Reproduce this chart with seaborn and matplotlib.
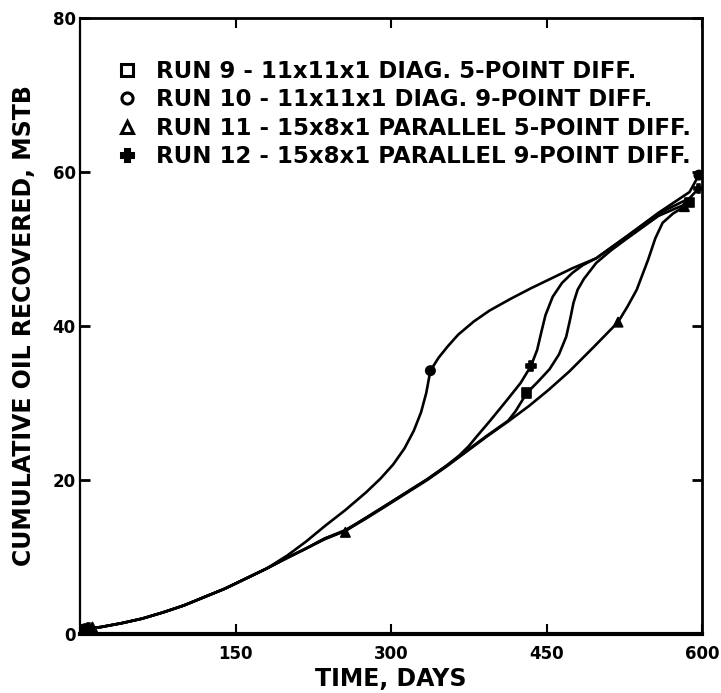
import matplotlib
matplotlib.use("Agg")
import matplotlib.pyplot as plt
import seaborn as sns
import pandas as pd
from matplotlib.lines import Line2D

# ---- data ----
run_labels = [
    "RUN 9 - 11x11x1 DIAG. 5-POINT DIFF.",
    "RUN 10 - 11x11x1 DIAG. 9-POINT DIFF.",
    "RUN 11 - 15x8x1 PARALLEL 5-POINT DIFF.",
    "RUN 12 - 15x8x1 PARALLEL 9-POINT DIFF.",
]

# Run 9 (square)
run9_days = [0, 20, 40, 60, 80, 100, 120, 140, 160, 180, 200, 218, 236, 256, 276, 295, 315,
             335, 354, 373, 393, 413, 420, 431, 442, 453, 462, 469, 473, 476, 480, 486, 498,
             512, 527, 558, 575, 588]
run9_vals = [0.6, 0.9, 1.4, 2.0, 2.8, 3.7, 4.8, 5.9, 7.2, 8.5, 9.9, 11.1, 12.4, 13.4, 15.1,
             16.7, 18.4, 20.1, 21.9, 23.8, 25.8, 27.7, 28.9, 31.3, 32.8, 34.4, 36.3, 38.6,
             41.0, 43.0, 44.7, 46.1, 48.2, 49.8, 51.3, 54.3, 55.3, 56.0]

# Run 10 (circle)
run10_days = [0, 20, 40, 60, 80, 100, 120, 140, 160, 180, 200, 218, 236, 256, 276, 290, 302,
              313, 322, 329, 334, 338, 346, 355, 365, 380, 395, 415, 435, 455, 475, 498, 527,
              558, 588, 597]
run10_vals = [0.6, 0.9, 1.4, 2.0, 2.8, 3.7, 4.8, 5.9, 7.2, 8.5, 10.2, 12.0, 14.0, 16.1, 18.4,
              20.2, 22.0, 24.1, 26.4, 28.8, 31.3, 34.2, 35.9, 37.4, 38.9, 40.6, 42.0, 43.5,
              44.9, 46.2, 47.5, 48.8, 51.6, 54.7, 57.4, 59.6]

# Run 11 (triangle)
run11_days = [0, 20, 40, 60, 80, 100, 120, 140, 160, 180, 200, 218, 236, 256, 276, 295, 315,
              335, 354, 373, 393, 413, 433, 452, 472, 495, 519, 528, 537, 548, 555, 562, 572,
              583]
run11_vals = [0.6, 0.9, 1.4, 2.0, 2.8, 3.7, 4.8, 5.9, 7.2, 8.5, 9.9, 11.1, 12.3, 13.4, 15.0,
              16.6, 18.3, 20.0, 21.8, 23.7, 25.7, 27.6, 29.6, 31.7, 34.1, 37.2, 40.5, 42.5,
              44.7, 48.6, 51.4, 53.4, 54.6, 55.5]

# Run 12 (plus)
run12_days = [0, 20, 40, 60, 80, 100, 120, 140, 160, 180, 200, 218, 236, 256, 276, 295, 315,
              335, 354, 366, 375, 383, 395, 412, 425, 435, 441, 445, 449, 456, 465, 475, 485,
              498, 527, 558, 588, 597]
run12_vals = [0.6, 0.9, 1.4, 2.0, 2.8, 3.7, 4.8, 5.9, 7.2, 8.5, 9.9, 11.1, 12.4, 13.5, 15.1,
              16.7, 18.4, 20.1, 21.9, 23.2, 24.4, 25.7, 27.6, 30.4, 32.6, 34.8, 36.9, 39.2,
              41.4, 43.8, 45.6, 46.9, 47.9, 48.8, 51.6, 54.6, 56.6, 57.9]

# marker points
run9_mark_days = [3, 431, 588]
run9_mark_vals = [0.5, 31.3, 56.0]
run10_mark_days = [5, 338, 597]
run10_mark_vals = [0.7, 34.2, 59.6]
run11_mark_days = [12, 256, 519, 583]
run11_mark_vals = [0.9, 13.2, 40.5, 55.5]
run12_mark_days = [8, 435, 597]
run12_mark_vals = [0.8, 34.8, 57.9]

x_ticks = [150, 300, 450, 600]
y_ticks = [0, 20, 40, 60, 80]

# ---- build tables ----
curves = pd.concat([
    pd.DataFrame({"days": run9_days, "oil": run9_vals, "run": run_labels[0]}),
    pd.DataFrame({"days": run10_days, "oil": run10_vals, "run": run_labels[1]}),
    pd.DataFrame({"days": run11_days, "oil": run11_vals, "run": run_labels[2]}),
    pd.DataFrame({"days": run12_days, "oil": run12_vals, "run": run_labels[3]}),
], ignore_index=True)

marks = pd.concat([
    pd.DataFrame({"days": run9_mark_days, "oil": run9_mark_vals, "run": run_labels[0]}),
    pd.DataFrame({"days": run10_mark_days, "oil": run10_mark_vals, "run": run_labels[1]}),
    pd.DataFrame({"days": run11_mark_days, "oil": run11_mark_vals, "run": run_labels[2]}),
    pd.DataFrame({"days": run12_mark_days, "oil": run12_mark_vals, "run": run_labels[3]}),
], ignore_index=True)

sns.set_theme(style="ticks")
plt.rcParams['font.family'] = ['DejaVu Sans']
plt.rcParams.update({"text.color": "black", "axes.labelcolor": "black",
                     "xtick.color": "black", "ytick.color": "black"})

fig = plt.figure(figsize=(7.21, 6.93), dpi=100)
ax = fig.add_axes([80 / 721, 59 / 693, 622 / 721, 616 / 693])

sns.lineplot(data=curves, x="days", y="oil", units="run", estimator=None, sort=False,
             color="black", linewidth=1.9, ax=ax, legend=False)

marker_map = {run_labels[0]: "s", run_labels[1]: "o", run_labels[2]: "^", run_labels[3]: "P"}
sns.scatterplot(data=marks, x="days", y="oil", style="run", markers=marker_map,
                color="black", s=45, edgecolor="black", linewidth=1.2, ax=ax,
                legend=False, zorder=5)

ax.set_xlim(0, 600)
ax.set_ylim(0, 80)
ax.set_xticks(x_ticks)
ax.set_yticks(y_ticks)
ax.set_xticklabels([str(v) for v in x_ticks], fontsize=12, fontweight="bold", color="black")
ax.set_yticklabels([str(v) for v in y_ticks], fontsize=12, fontweight="bold", color="black")
ax.tick_params(axis="x", direction="in", length=7, width=1.5, pad=8,
               top=True, bottom=True, colors="black")
ax.tick_params(axis="y", direction="in", length=7, width=2, pad=3,
               left=True, right=True, colors="black")

ax.set_xlabel("TIME, DAYS", fontsize=17, fontweight="bold", labelpad=3, color="black")
ax.set_ylabel("CUMULATIVE OIL RECOVERED, MSTB", fontsize=17, fontweight="bold",
              labelpad=12, color="black")

for side, lw in [("bottom", 3.0), ("left", 1.6), ("top", 2.0), ("right", 2.0)]:
    ax.spines[side].set_visible(True)
    ax.spines[side].set_linewidth(lw)
    ax.spines[side].set_color("black")

# legend (markers only)
handles = [
    Line2D([], [], linestyle="none", marker=marker_map[lab], markersize=8,
           markerfacecolor="white" if marker_map[lab] != "P" else "black",
           markeredgecolor="black", markeredgewidth=2.2)
    for lab in run_labels
]
leg = ax.legend(handles, run_labels, loc="upper left",
                bbox_to_anchor=(116 / 721, (693 - 60) / 693),
                bbox_transform=fig.transFigure, frameon=False,
                handlelength=1.0, handletextpad=0.75, labelspacing=0.23,
                borderpad=0, borderaxespad=0,
                prop={"size": 16.5, "weight": "bold"})
for t in leg.get_texts():
    t.set_color("black")

fig.savefig("out.png", dpi=100)
